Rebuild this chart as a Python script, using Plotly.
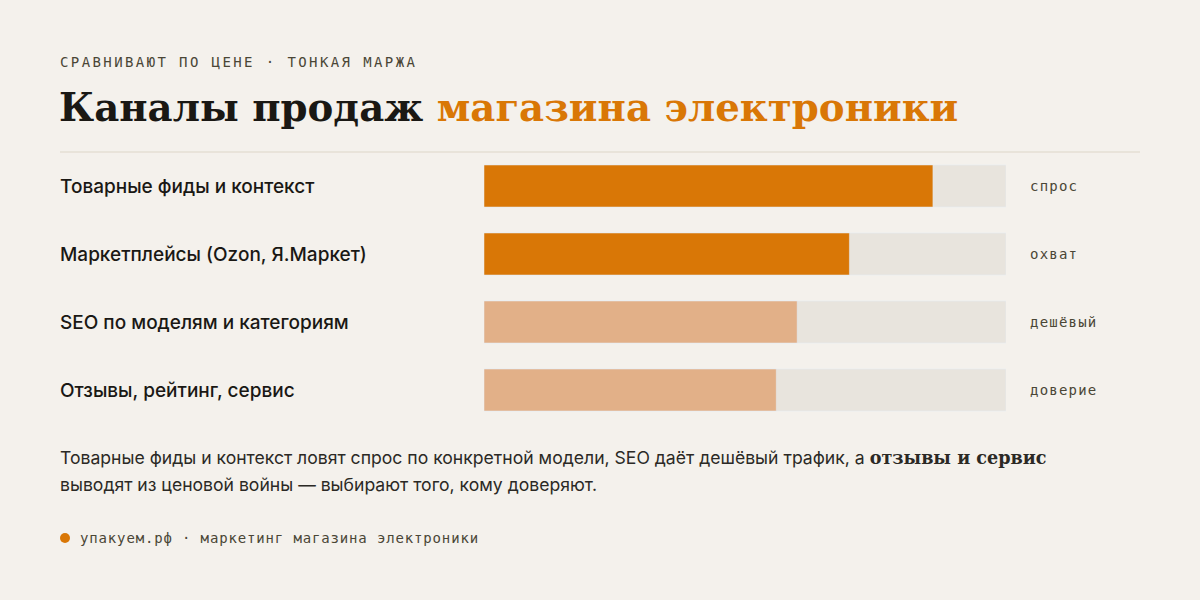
import plotly.graph_objects as go

W, H = 1200, 600
BG = "#f4f1ec"
TRACK = "#e8e4dd"
ORANGE = "#d97706"
ORANGE_LIGHT = "#e2b088"
INK = "#1a1814"
MUTED = "#4a4636"

categories = ["Товарные фиды и контекст", "Маркетплейсы (Ozon, Я.Маркет)",
              "SEO по моделям и категориям", "Отзывы, рейтинг, сервис"]
values = [86, 70, 60, 56]
track_max = [100, 100, 100, 100]
tags = ["спрос", "охват", "дешёвый", "доверие"]
bar_colors = [ORANGE, ORANGE, ORANGE_LIGHT, ORANGE_LIGHT]

kicker = "СРАВНИВАЮТ ПО ЦЕНЕ · ТОНКАЯ МАРЖА"
title_a = "Каналы продаж "
title_b = "магазина электроники"
note_1 = "Товарные фиды и контекст ловят спрос по конкретной модели, SEO даёт дешёвый трафик, а "
note_1b = "отзывы и сервис"
note_2 = "выводят из ценовой войны — выбирают того, кому доверяют."
footer = "упакуем.рф · маркетинг магазина электроники"


def px(x):
    return x / W


def py(y):
    return 1 - y / H


def ls(s, spacing):
    return f"<span style='letter-spacing:{spacing}px'>{s}</span>"


fig = go.Figure()
fig.add_trace(go.Bar(y=categories, x=track_max, orientation="h", marker_color=TRACK,
                     width=0.6176, hoverinfo="skip", showlegend=False))
fig.add_trace(go.Bar(y=categories, x=values, orientation="h", marker_color=bar_colors,
                     width=0.6176, showlegend=False))

ann = []
for c, t in zip(categories, tags):
    ann.append(dict(x=px(58), xref="paper", y=c, yref="y", text=c, showarrow=False,
                    xanchor="left", yanchor="middle",
                    font=dict(family="Inter", size=19, color=INK, weight=500)))
    ann.append(dict(x=px(1028), xref="paper", y=c, yref="y", text=ls(t, 1.2), showarrow=False,
                    xanchor="left", yanchor="middle",
                    font=dict(family="DejaVu Sans Mono", size=14, color=MUTED)))

ann.append(dict(x=px(58), y=py(62), xref="paper", yref="paper", text=ls(kicker, 2.4),
                showarrow=False, xanchor="left", yanchor="middle",
                font=dict(family="DejaVu Sans Mono", size=14, color=MUTED)))
ann.append(dict(x=px(57), y=py(108), xref="paper", yref="paper",
                text=f"<b>{title_a}<span style='color:{ORANGE}'>{title_b}</span></b>",
                showarrow=False, xanchor="left", yanchor="middle",
                font=dict(family="DejaVu Serif", size=38.7, color=INK)))
ann.append(dict(x=px(58), y=py(457), xref="paper", yref="paper",
                text=f"{note_1}<span style='font-family:DejaVu Serif'><b>{note_1b}</b></span>",
                showarrow=False, xanchor="left", yanchor="middle",
                font=dict(family="Inter", size=17.6, color="#2b2925")))
ann.append(dict(x=px(58), y=py(484), xref="paper", yref="paper", text=note_2,
                showarrow=False, xanchor="left", yanchor="middle",
                font=dict(family="Inter", size=17.6, color="#2b2925")))
ann.append(dict(x=px(78), y=py(538), xref="paper", yref="paper", text=ls(footer, 0.85),
                showarrow=False, xanchor="left", yanchor="middle",
                font=dict(family="DejaVu Sans Mono", size=14, color=MUTED)))

shapes = [
    dict(type="line", xref="paper", yref="paper", x0=px(60), x1=px(1140), y0=py(152), y1=py(152),
         line=dict(color="#ddd6c8", width=1)),
    dict(type="circle", xref="paper", yref="paper", x0=px(60), x1=px(70), y0=py(533), y1=py(543),
         fillcolor=ORANGE, line=dict(width=0)),
]

fig.update_layout(
    width=W, height=H, margin=dict(l=0, r=0, t=0, b=0),
    paper_bgcolor=BG, plot_bgcolor=BG, barmode="overlay",
    xaxis=dict(domain=[px(484), px(1006)], range=[0, 100], visible=False, fixedrange=True),
    yaxis=dict(domain=[py(424), py(152)], range=[3.5, -0.5], visible=False,
               categoryorder="array", categoryarray=categories, fixedrange=True),
    annotations=ann, shapes=shapes, showlegend=False,
)

fig.write_html("out.html", config={"displayModeBar": False})
